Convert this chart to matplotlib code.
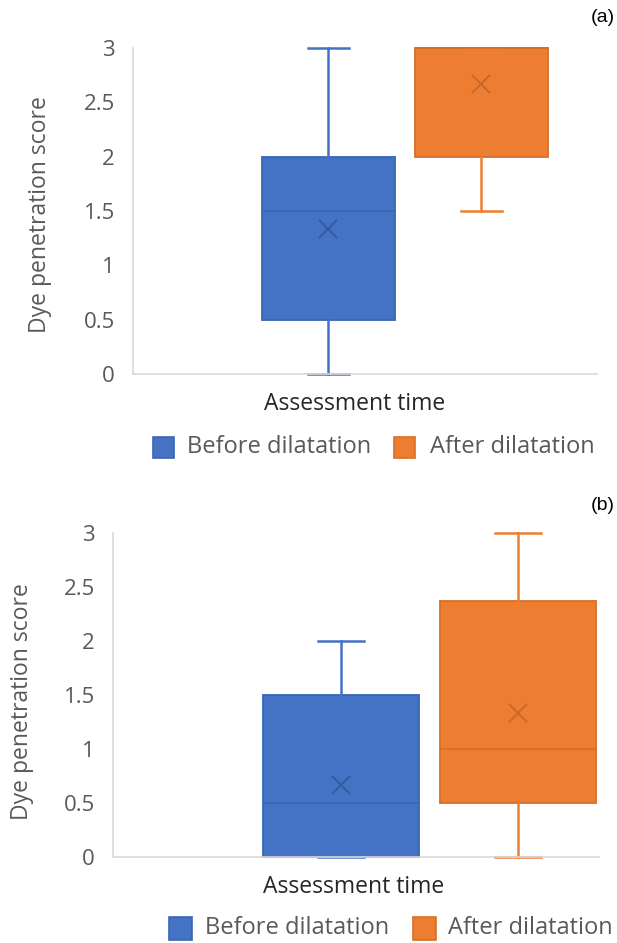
import matplotlib
matplotlib.use("Agg")
import matplotlib.pyplot as plt

# ---------------- data ----------------
series = ["Before dilatation", "After dilatation"]
yticks = [0, 0.5, 1, 1.5, 2, 2.5, 3]
ytick_labels = ["0", "0.5", "1", "1.5", "2", "2.5", "3"]

# panel (a)
a_whislo = [0.0, 1.5]
a_q1 = [0.5, 2.0]
a_med = [1.5, 3.0]
a_q3 = [2.0, 3.0]
a_whishi = [3.0, 3.0]
a_mean = [1.33, 2.67]

# panel (b)
b_whislo = [0.0, 0.0]
b_q1 = [0.0, 0.5]
b_med = [0.5, 1.0]
b_q3 = [1.5, 2.375]
b_whishi = [2.0, 3.0]
b_mean = [0.67, 1.33]

fill_colors = ["#4472C4", "#ED7D31"]
edge_colors = ["#3A65B3", "#D46F2A"]
mark_colors = ["#34599E", "#C5682B"]

FONT = "Open Sans"
W, H = 617, 943
fig = plt.figure(figsize=(W / 100, H / 100), dpi=100)


def px_axes(left, right, top, bottom):
    return fig.add_axes([left / W, 1 - bottom / H, (right - left) / W, (bottom - top) / H])


def draw_panel(ax, whislo, q1, med, q3, whishi, mean, centers, width, capw):
    for i in range(len(series)):
        st = dict(whislo=whislo[i], q1=q1[i], med=med[i], q3=q3[i],
                  whishi=whishi[i], mean=mean[i], fliers=[], label=series[i])
        ax.bxp([st], positions=[centers[i]], widths=[width], patch_artist=True,
               showmeans=True, showfliers=False, capwidths=[capw],
               boxprops=dict(facecolor=fill_colors[i], edgecolor=edge_colors[i], linewidth=1.3),
               medianprops=dict(color=edge_colors[i], linewidth=1.3),
               whiskerprops=dict(color=fill_colors[i], linewidth=1.8),
               capprops=dict(color=fill_colors[i], linewidth=1.8),
               meanprops=dict(marker="x", markersize=13, markeredgecolor=mark_colors[i],
                              markeredgewidth=1.3, markerfacecolor="none"),
               manage_ticks=False)
    ax.set_xlim(0, 1)
    ax.set_ylim(0, 3)
    for s in ["top", "right"]:
        ax.spines[s].set_visible(False)
    for s in ["left", "bottom"]:
        ax.spines[s].set_color("#D9D9D9")
        ax.spines[s].set_linewidth(1.2)
    ax.set_xticks([])
    ax.set_yticks(yticks)
    ax.set_yticklabels(ytick_labels, fontfamily=FONT, fontsize=16, color="#595959")
    ax.tick_params(axis="y", length=0, pad=13)
    for child in ax.get_children():
        try:
            child.set_clip_on(False)
        except Exception:
            pass


def legend_row(y, sq1, t1, sq2, t2, size):
    for (sx, tx, col, ecol, lab) in [(sq1, t1, fill_colors[0], edge_colors[0], series[0]),
                                     (sq2, t2, fill_colors[1], edge_colors[1], series[1])]:
        fig.patches.append(plt.Rectangle((sx / W, 1 - (y + size / 2) / H), size / W, size / H,
                                         transform=fig.transFigure, facecolor=col,
                                         edgecolor=ecol, linewidth=1.2))
        fig.text(tx / W, 1 - y / H, lab, fontfamily=FONT, fontsize=17, color="#595959",
                 ha="left", va="center")


# ---------- panel (a) ----------
axA = px_axes(133, 597, 48, 374)
draw_panel(axA, a_whislo, a_q1, a_med, a_q3, a_whishi, a_mean,
           centers=[0.421, 0.751], width=0.287, capw=0.088)
fig.text(40 / W, 1 - 215 / H, "Dye penetration score", rotation=90, fontfamily=FONT,
         fontsize=16.5, color="#595959", ha="center", va="center")
fig.text(355 / W, 1 - 404 / H, "Assessment time", fontfamily=FONT, fontsize=16.5,
         color="#262626", ha="center", va="center")
fig.text(615 / W, 1 - 18 / H, "(a)", fontfamily="Liberation Sans", fontsize=14,
         color="black", ha="right", va="center")
legend_row(447, 153, 187, 394, 430, 21)

# ---------- panel (b) ----------
axB = px_axes(113, 599, 533, 857)
draw_panel(axB, b_whislo, b_q1, b_med, b_q3, b_whishi, b_mean,
           centers=[0.469, 0.833], width=0.321, capw=0.095)
fig.text(22 / W, 1 - 702 / H, "Dye penetration score", rotation=90, fontfamily=FONT,
         fontsize=16.5, color="#595959", ha="center", va="center")
fig.text(354 / W, 1 - 887 / H, "Assessment time", fontfamily=FONT, fontsize=16.5,
         color="#262626", ha="center", va="center")
fig.text(615 / W, 1 - 505 / H, "(b)", fontfamily="Liberation Sans", fontsize=14,
         color="black", ha="right", va="center")
legend_row(928, 169, 205, 413, 448, 23)

fig.savefig("out.png", dpi=100)
